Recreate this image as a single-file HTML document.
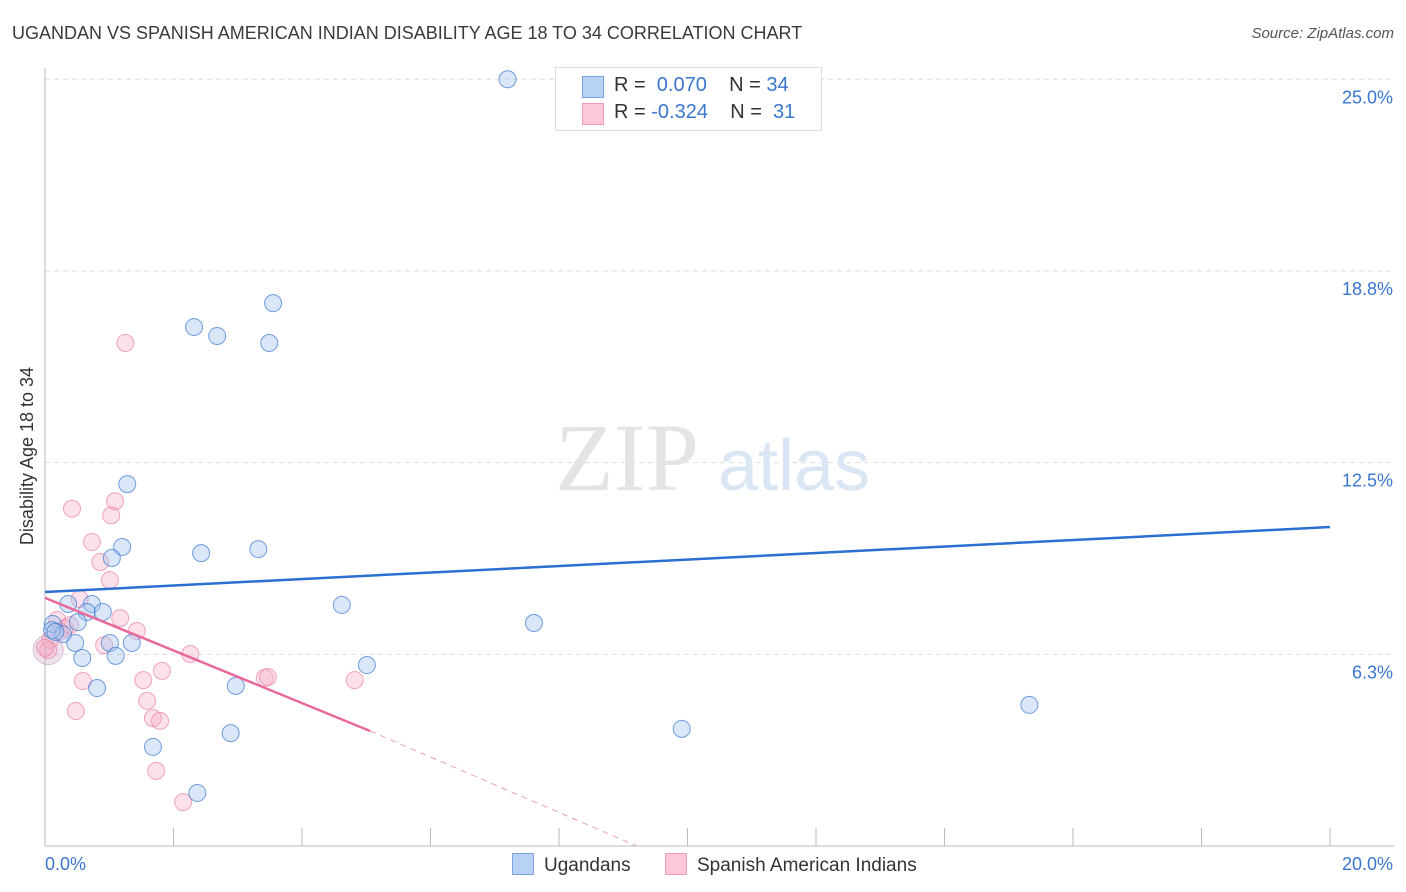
<!DOCTYPE html>
<html><head><meta charset="utf-8"><style>
body{margin:0;background:#fff;font-family:"Liberation Sans",sans-serif;}
#wrap{position:relative;width:1406px;height:892px;overflow:hidden;}
.t{position:absolute;white-space:nowrap;}
</style></head><body>
<div id="wrap">
<div class="t" style="left:12px;top:23px;font-size:18px;color:#3a3a3a;">UGANDAN VS SPANISH AMERICAN INDIAN DISABILITY AGE 18 TO 34 CORRELATION CHART</div>
<div class="t" style="right:12px;top:25px;font-size:15px;color:#555;font-style:italic;">Source: ZipAtlas.com</div>
<svg id="svg" width="1406" height="892" style="position:absolute;left:0;top:0"></svg>
</div>
<script>
const xTickLabels=["0.0%","20.0%"];
const yTicks=[6.25,12.5,18.75,25];
const yTickLabels=["6.3%","12.5%","18.8%","25.0%"];
const ugX=[7.2,3.55,2.32,2.68,3.49,1.28,1.2,1.04,2.43,3.32,4.62,7.61,0.36,0.73,0.65,0.9,0.51,0.12,0.28,0.11,0.47,1.01,1.35,0.58,1.1,5.01,0.81,2.97,15.32,9.91,2.89,1.68,2.37,0.16];
const ugY=[25,17.7,16.92,16.63,16.4,11.8,9.75,9.39,9.55,9.68,7.86,7.27,7.89,7.89,7.63,7.63,7.3,7.24,6.91,7.04,6.62,6.62,6.62,6.13,6.2,5.9,5.15,5.22,4.6,3.82,3.68,3.23,1.73,6.98];
const spX=[1.25,0.42,1.09,1.03,0.73,0.86,1.01,0.54,1.17,1.43,0.19,0.31,0.08,0.05,0.92,2.26,1.82,0.59,1.53,3.42,3.47,4.82,1.59,1.68,1.79,0.48,1.73,2.15,0.23,0.39,0.0];
const spY=[16.4,11.0,11.24,10.78,9.91,9.26,8.67,8.05,7.43,7.01,7.37,7.11,6.72,6.39,6.55,6.26,5.71,5.38,5.41,5.48,5.51,5.41,4.73,4.17,4.08,4.4,2.45,1.43,6.98,7.2,6.46];
const ugTrend=[[0,8.28],[20,10.4]];
const spTrend=[[0,8.09],[5.06,3.75]];
const spTrendExt=[[5.06,3.75],[9.21,0]];
const X=v=>45+v*64.25, Y=v=>846-v*30.67;
const s=document.getElementById('svg');const NS="http://www.w3.org/2000/svg";
function el(t,a,p){const e=document.createElementNS(NS,t);for(const k in a)e.setAttribute(k,a[k]);(p||s).appendChild(e);return e;}
yTicks.forEach((v,i)=>{const g=el('line',{x1:45,x2:1394,y1:Y(v),y2:Y(v),stroke:'#ddd','stroke-dasharray':'5,4'});


const t=el('text',{x:1393,y:Y(v)+24,'text-anchor':'end','font-size':18,fill:'#3a76d0','font-family':'Liberation Sans'});t.textContent=yTickLabels[i];

});
const ax=el('line',{x1:45,x2:1394,y1:846,y2:846,stroke:'#bbb'});


const ay=el('line',{x1:45,x2:45,y1:68,y2:846,stroke:'#bbb'});


for(let i=0;i<=10;i++){const tk=el('line',{x1:X(i*2),x2:X(i*2),y1:828,y2:846,stroke:'#bbb'});

}
[[45,'start'],[1393,'end']].forEach((d,i)=>{const t=el('text',{x:d[0],y:870,'text-anchor':d[1],'font-size':18,fill:'#3a76d0','font-family':'Liberation Sans'});t.textContent=xTickLabels[i];

});
const yt=el('text',{transform:'translate(33,456) rotate(-90)','text-anchor':'middle','font-size':18,fill:'#333','font-family':'Liberation Sans'});yt.textContent='Disability Age 18 to 34';


const wm=el('text',{x:555,y:490,'font-size':96,fill:'#e4e4e4','font-family':'Liberation Serif'});wm.textContent='ZIP';


const wm2=el('text',{x:718,y:490,'font-size':72,fill:'#dbe6f5','font-family':'Liberation Sans'});wm2.textContent='atlas';


const bc=el('circle',{cx:X(0.05),cy:Y(6.4),r:15,fill:'rgba(200,170,200,0.35)',stroke:'rgba(200,140,180,0.5)'});


spX.forEach((v,i)=>{const c=el('circle',{cx:X(v),cy:Y(spY[i]),r:8.5,fill:'rgba(246,170,195,0.35)',stroke:'rgba(235,130,165,0.7)','stroke-width':1});

});
ugX.forEach((v,i)=>{const c=el('circle',{cx:X(v),cy:Y(ugY[i]),r:8.5,fill:'rgba(160,195,240,0.4)',stroke:'rgba(60,120,210,0.7)','stroke-width':1});

});
const l1=el('line',{x1:X(ugTrend[0][0]),y1:Y(ugTrend[0][1]),x2:X(ugTrend[1][0]),y2:Y(ugTrend[1][1]),stroke:'#2b6fd0','stroke-width':2.5});


const l2=el('line',{x1:X(spTrend[0][0]),y1:Y(spTrend[0][1]),x2:X(spTrend[1][0]),y2:Y(spTrend[1][1]),stroke:'#e8699a','stroke-width':2.5});


const l3=el('line',{x1:X(spTrendExt[0][0]),y1:Y(spTrendExt[0][1]),x2:X(spTrendExt[1][0]),y2:Y(spTrendExt[1][1]),stroke:'#e8a0bb','stroke-width':1,'stroke-dasharray':'6,5'});


</script>
<div class="t" style="left:555px;top:67px;width:265px;height:62px;border:1px solid #ddd;background:#fff;font-size:20px;color:#333;">
<div style="position:absolute;left:26px;top:8px;width:20px;height:20px;background:#b8d2f5;border:1px solid #7aa6e0;"></div>
<div style="position:absolute;left:58px;top:6px;">R = &nbsp;<span style="color:#3a76d0">0.070</span>&nbsp;&nbsp;&nbsp; N = <span style="color:#3a76d0">34</span></div>
<div style="position:absolute;left:26px;top:35px;width:20px;height:20px;background:#fbc8d8;border:1px solid #ee9ab8;"></div>
<div style="position:absolute;left:58px;top:33px;">R = <span style="color:#3a76d0">-0.324</span>&nbsp;&nbsp;&nbsp; N = &nbsp;<span style="color:#3a76d0">31</span></div>
</div>
<div class="t" style="left:512px;top:853px;font-size:19px;color:#333;"><span style="display:inline-block;width:20px;height:20px;background:#b8d2f5;border:1px solid #7aa6e0;vertical-align:-4px;margin-right:10px;"></span>Ugandans</div>
<div class="t" style="left:665px;top:853px;font-size:19px;color:#333;"><span style="display:inline-block;width:20px;height:20px;background:#fbc8d8;border:1px solid #ee9ab8;vertical-align:-4px;margin-right:10px;"></span>Spanish American Indians</div>
</body></html>
